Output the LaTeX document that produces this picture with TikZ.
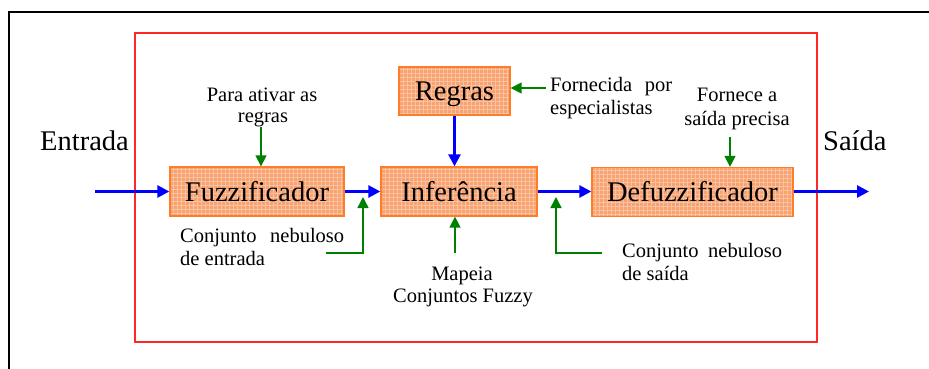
\documentclass[tikz,border=0pt]{standalone}
\usepackage{fontspec}
\setmainfont{Liberation Serif}
\usetikzlibrary{arrows.meta}
\definecolor{boxfill}{RGB}{248,162,112}
\definecolor{boxline}{RGB}{255,125,40}
\definecolor{flowblue}{RGB}{0,0,255}
\definecolor{notegreen}{RGB}{0,128,0}
\definecolor{framered}{RGB}{255,40,40}
\tikzset{
  blockbox/.style={draw=boxline, line width=1.3pt, fill=boxfill,
    minimum height=49pt, inner sep=0pt, text height=19.5pt, text depth=0pt,
    font=\fontsize{28.5}{34}\selectfont,
    path picture={\draw[white, opacity=0.35, line width=0.4pt, step=4pt]
      (path picture bounding box.south west) grid (path picture bounding box.north east);}},
  bigtxt/.style={inner sep=0pt, font=\fontsize{28.5}{34}\selectfont},
  smalltxt/.style={inner sep=0pt, font=\fontsize{20.5}{23}\selectfont},
  flow/.style={draw=flowblue, line width=2.7pt, -{Triangle[length=12pt,width=12pt]}},
  note/.style={draw=notegreen, line width=1.5pt, -{Triangle[length=11pt,width=11pt]}},
}
\begin{document}
\begin{tikzpicture}[x=1pt,y=-1pt]
\useasboundingbox (0,0) rectangle (929,369);
% outer frame (partial)
\draw[line width=2pt, black] (9,372) -- (9,12) -- (932,12);
% red frame
\draw[framered, line width=1.6pt] (135,33) rectangle (817,342);

% blocks
\node[blockbox, minimum width=174pt] (fuzz) at (257,191.5) {Fuzzificador};
\node[blockbox, minimum width=156pt] (inf) at (459,191.5) {Inferência};
\node[blockbox, minimum width=201pt] (defuzz) at (692.5,192) {Defuzzificador};
\node[blockbox, minimum width=111pt, minimum height=48pt] (regras) at (454.5,91) {Regras};

% outside labels
\node[bigtxt, anchor=base west] (entrada) at (40,150) {Entrada};
\node[bigtxt, anchor=base west] (saida) at (823,150) {Saída};

% blue flow
\coordinate (inpt) at (95,191.5);
\coordinate (outpt) at (869,191.5);
\draw[flow] (inpt) -- (fuzz.west);
\draw[flow] (fuzz.east) -- (inf.west |- fuzz.east);
\draw[flow] (inf.east) -- (defuzz.west |- inf.east);
\draw[flow] (defuzz.east |- inf.east) -- (outpt);
\draw[flow] (regras.south) -- (regras.south |- inf.north);

% notes text
\node[smalltxt, anchor=base] (para1) at (262,102) {Para ativar as};
\node[smalltxt, anchor=base] (para2) at (263,122) {regras};
\node[smalltxt, anchor=base west, text width=122pt] (forn1) at (550,92) {Fornecida\hfill por};
\node[smalltxt, anchor=base west] (forn2) at (550,114.5) {especialistas};
\node[smalltxt, anchor=base] (fornece1) at (737,102) {Fornece a};
\node[smalltxt, anchor=base] (fornece2) at (737,125) {saída precisa};
\node[smalltxt, anchor=base west, text width=164pt] (cne1) at (180,242) {Conjunto\hfill nebuloso};
\node[smalltxt, anchor=base west] (cne2) at (180,265) {de entrada};
\node[smalltxt, anchor=base] (map1) at (462,280) {Mapeia};
\node[smalltxt, anchor=base] (map2) at (463,302) {Conjuntos Fuzzy};
\node[smalltxt, anchor=base west, text width=160pt] (cns1) at (622,257) {Conjunto\hfill nebuloso};
\node[smalltxt, anchor=base west] (cns2) at (622,280) {de saída};

% green notes
\coordinate (g1s) at (261,127);
\draw[note] (g1s) -- (g1s |- fuzz.north);
\coordinate (g2s) at (326,253);
\coordinate (g2c) at (363,253);
\coordinate (g2e) at (363,197);
\draw[note] (g2s) -- (g2c) -- (g2e);
\coordinate (g3s) at (455,253);
\draw[note] (g3s) -- (g3s |- inf.south);
\coordinate (g4s) at (602,253);
\coordinate (g4c) at (556,253);
\coordinate (g4e) at (556,197);
\draw[note] (g4s) -- (g4c) -- (g4e);
\coordinate (g5s) at (546,88);
\draw[note] (g5s) -- (regras.east |- g5s);
\coordinate (g6s) at (730,137);
\draw[note] (g6s) -- (g6s |- defuzz.north);
\end{tikzpicture}
\end{document}
